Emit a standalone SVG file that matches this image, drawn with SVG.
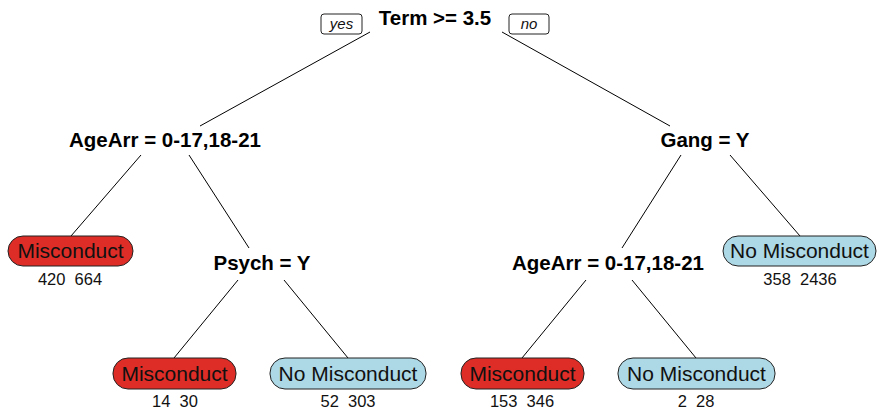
<svg xmlns="http://www.w3.org/2000/svg" width="877" height="409" viewBox="0 0 877 409">
<style>
.split{font-family:"Liberation Sans",Arial,sans-serif;font-weight:bold;font-size:20.5px;fill:#000;text-anchor:middle}
.leaf{font-family:"Liberation Sans",Arial,sans-serif;font-size:21px;fill:#111;text-anchor:middle}
.cnt{font-family:"Liberation Sans",Arial,sans-serif;font-size:16.5px;fill:#111;text-anchor:middle;white-space:pre}
.yn{font-family:"Liberation Sans",Arial,sans-serif;font-style:italic;font-size:15px;fill:#111;text-anchor:middle}
.red{fill:#DE2D26;stroke:#222;stroke-width:1}
.blue{fill:#ADD8E6;stroke:#222;stroke-width:1}
.ybox{fill:#fff;stroke:#222;stroke-width:1}
.edge{stroke:#000;stroke-width:1;fill:none}
</style>
<g id="connectors">
<line class="edge" x1="370" y1="32" x2="200" y2="126"/>
<line class="edge" x1="502" y1="32" x2="670" y2="126"/>
<line class="edge" x1="141" y1="155" x2="71" y2="236"/>
<line class="edge" x1="189" y1="155" x2="249" y2="248"/>
<line class="edge" x1="681" y1="155" x2="622" y2="248"/>
<line class="edge" x1="730" y1="155" x2="800" y2="236"/>
<line class="edge" x1="238" y1="280" x2="174" y2="358"/>
<line class="edge" x1="284" y1="280" x2="348" y2="358"/>
<line class="edge" x1="586" y1="280" x2="522" y2="358"/>
<line class="edge" x1="632" y1="280" x2="696" y2="358"/>
</g>
<g id="root">
<text class="split" x="435" y="25">Term &gt;= 3.5</text>
<rect class="ybox" x="321" y="14" width="41" height="20" rx="3"/>
<text class="yn" x="341.5" y="29">yes</text>
<rect class="ybox" x="509" y="14" width="40" height="20" rx="3"/>
<text class="yn" x="529" y="29">no</text>
</g>
<g id="agearr1"><text class="split" x="165" y="147">AgeArr = 0-17,18-21</text></g>
<g id="gang"><text class="split" x="705" y="147">Gang = Y</text></g>
<g id="leaf1">
<rect class="red" x="8" y="236" width="125" height="30" rx="15"/>
<text class="leaf" x="70.5" y="258">Misconduct</text>
<text class="cnt" x="70" y="285" xml:space="preserve">420  664</text>
</g>
<g id="psych"><text class="split" x="262" y="270">Psych = Y</text></g>
<g id="agearr2"><text class="split" x="608" y="270">AgeArr = 0-17,18-21</text></g>
<g id="leaf2">
<rect class="blue" x="723" y="236" width="153" height="30" rx="15"/>
<text class="leaf" x="799.5" y="258">No Misconduct</text>
<text class="cnt" x="800" y="285" xml:space="preserve">358  2436</text>
</g>
<g id="leaf3">
<rect class="red" x="113" y="358" width="123" height="31" rx="15"/>
<text class="leaf" x="174.5" y="381">Misconduct</text>
<text class="cnt" x="175" y="407" xml:space="preserve">14  30</text>
</g>
<g id="leaf4">
<rect class="blue" x="270" y="358" width="156" height="31" rx="15"/>
<text class="leaf" x="348" y="381">No Misconduct</text>
<text class="cnt" x="348" y="407" xml:space="preserve">52  303</text>
</g>
<g id="leaf5">
<rect class="red" x="461" y="358" width="123" height="31" rx="15"/>
<text class="leaf" x="522.5" y="381">Misconduct</text>
<text class="cnt" x="522" y="407" xml:space="preserve">153  346</text>
</g>
<g id="leaf6">
<rect class="blue" x="618" y="358" width="157" height="31" rx="15"/>
<text class="leaf" x="696.5" y="381">No Misconduct</text>
<text class="cnt" x="696" y="407" xml:space="preserve">2  28</text>
</g>
</svg>
